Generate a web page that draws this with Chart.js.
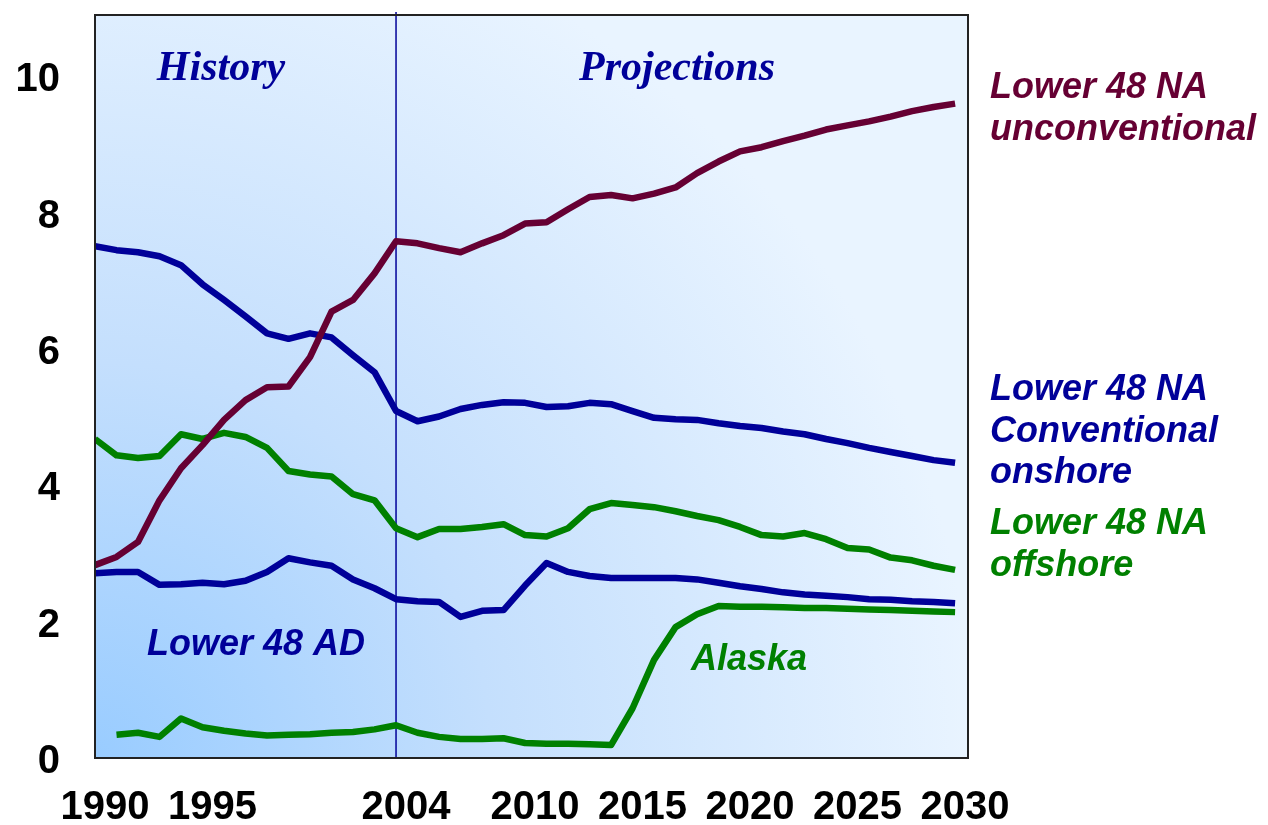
<!DOCTYPE html>
<html>
<head>
<meta charset="utf-8">
<script src="https://cdn.jsdelivr.net/npm/chart.js@4.4.1/dist/chart.umd.min.js"></script>
<style>
  html, body { margin: 0; padding: 0; background: #fff; }
  #wrap { width: 1268px; height: 825px; }
</style>
</head>
<body>
<div id="wrap"><canvas id="gasChart" width="1268" height="825"></canvas></div>
<script>
// lower 48 / alaska gas production, history + projections
const years = [1990, 1991, 1992, 1993, 1994, 1995, 1996, 1997, 1998, 1999,
               2000, 2001, 2002, 2003, 2004, 2005, 2006, 2007, 2008, 2009,
               2010, 2011, 2012, 2013, 2014, 2015, 2016, 2017, 2018, 2019,
               2020, 2021, 2022, 2023, 2024, 2025, 2026, 2027, 2028, 2029, 2030];

const unconventional = [2.83, 2.95, 3.17, 3.78, 4.25, 4.59, 4.96, 5.25, 5.44, 5.45,
                        5.88, 6.55, 6.72, 7.11, 7.58, 7.55, 7.48, 7.42, 7.55, 7.67,
                        7.84, 7.86, 8.05, 8.23, 8.26, 8.21, 8.28, 8.37, 8.58, 8.75,
                        8.90, 8.96, 9.05, 9.13, 9.22, 9.28, 9.34, 9.41, 9.49, 9.55, 9.60];

const conventionalOnshore = [7.51, 7.45, 7.42, 7.36, 7.23, 6.95, 6.72, 6.48, 6.23, 6.15,
                             6.23, 6.17, 5.91, 5.66, 5.09, 4.94, 5.01, 5.12, 5.18, 5.22,
                             5.21, 5.15, 5.16, 5.21, 5.19, 5.09, 4.99, 4.97, 4.96, 4.91,
                             4.87, 4.84, 4.79, 4.75, 4.68, 4.62, 4.55, 4.49, 4.43, 4.37, 4.33];

const offshore = [4.68, 4.44, 4.40, 4.43, 4.75, 4.68, 4.77, 4.71, 4.55, 4.21,
                  4.16, 4.13, 3.87, 3.78, 3.37, 3.24, 3.36, 3.36, 3.39, 3.43,
                  3.27, 3.25, 3.37, 3.65, 3.74, 3.71, 3.68, 3.62, 3.55, 3.49,
                  3.39, 3.27, 3.25, 3.30, 3.21, 3.08, 3.06, 2.94, 2.90, 2.82, 2.76];

const lower48AD = [2.71, 2.73, 2.73, 2.54, 2.55, 2.57, 2.55, 2.60, 2.73, 2.93,
                   2.87, 2.82, 2.62, 2.49, 2.33, 2.30, 2.29, 2.07, 2.16, 2.17,
                   2.53, 2.86, 2.73, 2.67, 2.64, 2.64, 2.64, 2.64, 2.62, 2.57,
                   2.52, 2.48, 2.43, 2.40, 2.38, 2.36, 2.33, 2.32, 2.30, 2.29, 2.27];

const alaska = [null, 0.34, 0.37, 0.31, 0.58, 0.45, 0.40, 0.36, 0.33, 0.34,
                0.35, 0.37, 0.38, 0.42, 0.48, 0.37, 0.31, 0.28, 0.28, 0.29,
                0.22, 0.21, 0.21, 0.20, 0.19, 0.73, 1.44, 1.92, 2.11, 2.23,
                2.22, 2.22, 2.21, 2.20, 2.20, 2.19, 2.18, 2.17, 2.16, 2.15, 2.14];

const xTickYears = [1990, 1995, 2004, 2010, 2015, 2020, 2025, 2030];
const yTickValues = [0, 2, 4, 6, 8, 10];
const splitYear = 2004;

const SANS = '"Liberation Sans", Arial, sans-serif';
const SERIF = '"Liberation Serif", "Times New Roman", serif';
const MAROON = '#660033', NAVY = '#000099', GREEN = '#008000';

function toPoints(vals) {
    return years.map((yr, i) => ({ x: yr, y: vals[i] }));
}

function lineSet(label, vals, color) {
    return {
        label: label,
        data: toPoints(vals),
        borderColor: color,
        borderWidth: 6.5,
        pointRadius: 0,
        tension: 0,
        borderJoinStyle: 'round',
        spanGaps: false
    };
}

// 背景渐变 + 2004 分隔线 + 边框 + 文本标注
const decor = {
    id: 'decor',
    beforeDatasetsDraw(chart) {
        const { ctx, chartArea: a, scales } = chart;
        ctx.save();
        const g = ctx.createRadialGradient(a.left, a.bottom, 0, a.left, a.bottom, 880);
        g.addColorStop(0, '#99ccff');
        g.addColorStop(0.45, '#c4dffd');
        g.addColorStop(1, '#e9f4ff');
        ctx.fillStyle = g;
        ctx.fillRect(a.left, a.top, a.right - a.left, a.bottom - a.top);

        const xs = scales.x.getPixelForValue(splitYear);
        ctx.strokeStyle = NAVY;
        ctx.lineWidth = 1.5;
        ctx.beginPath();
        ctx.moveTo(xs, a.top - 3);
        ctx.lineTo(xs, a.bottom);
        ctx.stroke();
        ctx.restore();
    },
    afterDraw(chart) {
        const { ctx, chartArea: a } = chart;
        ctx.save();
        ctx.strokeStyle = '#222';
        ctx.lineWidth = 2;
        ctx.strokeRect(a.left, a.top, a.right - a.left, a.bottom - a.top);

        ctx.textBaseline = 'alphabetic';
        ctx.font = 'italic bold 42px ' + SERIF;
        ctx.fillStyle = NAVY;
        ctx.textAlign = 'center';
        ctx.fillText('History', a.left + 126, a.top + 65);
        ctx.fillText('Projections', a.left + 582, a.top + 65);

        ctx.textAlign = 'left';
        ctx.font = 'italic bold 36px ' + SANS;
        ctx.fillText('Lower 48 AD', a.left + 52, 655);
        ctx.fillStyle = GREEN;
        ctx.fillText('Alaska', a.left + 596, 670);

        const rx = a.right + 22;
        ctx.fillStyle = MAROON;
        ctx.fillText('Lower 48 NA', rx, 98);
        ctx.fillText('unconventional', rx, 140);
        ctx.fillStyle = NAVY;
        ctx.fillText('Lower 48 NA', rx, 400);
        ctx.fillText('Conventional', rx, 442);
        ctx.fillText('onshore', rx, 483);
        ctx.fillStyle = GREEN;
        ctx.fillText('Lower 48 NA', rx, 534);
        ctx.fillText('offshore', rx, 576);
        ctx.restore();
    }
};

const tickFont = { family: SANS, size: 40, weight: 'bold' };

new Chart(document.getElementById('gasChart'), {
    type: 'line',
    data: {
        datasets: [
            lineSet('Lower 48 NA unconventional', unconventional, MAROON),
            lineSet('Lower 48 NA Conventional onshore', conventionalOnshore, NAVY),
            lineSet('Lower 48 AD', lower48AD, NAVY),
            lineSet('Lower 48 NA offshore', offshore, GREEN),
            lineSet('Alaska', alaska, GREEN)
        ]
    },
    options: {
        responsive: false,
        devicePixelRatio: 1,
        animation: false,
        layout: { padding: { top: 15, right: 300, left: 0, bottom: 0 } },
        plugins: { legend: { display: false }, tooltip: { enabled: false } },
        scales: {
            x: {
                type: 'linear',
                min: 1990,
                max: 2030.6,
                grid: { display: false, drawTicks: false },
                border: { display: false },
                afterBuildTicks: s => { s.ticks = xTickYears.map(v => ({ value: v })); },
                afterFit: s => {
                    s.height = 67;
                    s.paddingLeft = 0; s.paddingRight = 0;
                },
                ticks: {
                    color: '#000',
                    font: tickFont,
                    padding: 26,
                    labelOffset: 10,
                    maxRotation: 0,
                    autoSkip: false,
                    callback: v => String(v)
                }
            },
            y: {
                min: 0,
                max: 10.9,
                grid: { display: false, drawTicks: false },
                border: { display: false },
                afterBuildTicks: s => { s.ticks = yTickValues.map(v => ({ value: v })); },
                afterFit: s => {
                    s.width = 95;
                    s.paddingTop = 0; s.paddingBottom = 0;
                },
                ticks: {
                    color: '#000',
                    font: tickFont,
                    padding: 35,
                    labelOffset: 4,
                    callback: v => String(v)
                }
            }
        }
    },
    plugins: [decor]
});
</script>
</body>
</html>
